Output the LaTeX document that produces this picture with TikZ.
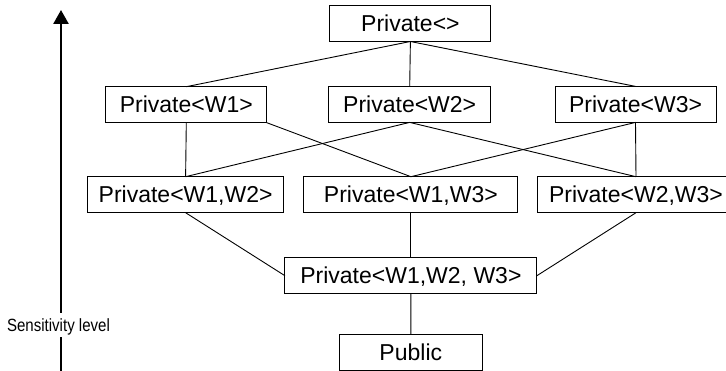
\documentclass[tikz,border=0pt]{standalone}
\usepackage{fontspec}
\setmainfont{Liberation Sans}
\usetikzlibrary{arrows.meta}
\begin{document}
\begin{tikzpicture}[x=1pt,y=-1pt,
  lvl/.style={draw, line width=1pt, inner sep=0pt, outer sep=0pt,
    minimum height=36pt, font=\fontsize{23}{27}\selectfont,
    text height=16.5pt, text depth=0pt},
  link/.style={line width=0.9pt},
  axis/.style={line width=2.6pt, -{Triangle[width=15pt,length=14pt]}},
  axislabel/.style={fill=white, inner sep=0pt, outer sep=0pt,
    minimum height=24pt, font=\fontsize{17.7}{20}\selectfont,
    text height=12.7pt, text depth=0pt}]
\useasboundingbox (0,0) rectangle (726,371);
\clip (0,0) rectangle (726,371);

% lattice of privacy levels
\node[lvl, minimum width=161pt] (top)  at (410.4,23.5)  {Private<>};
\node[lvl, minimum width=161pt] (w1)   at (186.3,104.7) {Private<W1>};
\node[lvl, minimum width=162pt] (w2)   at (409.7,104.4) {Private<W2>};
\node[lvl, minimum width=161pt] (w3)   at (635.5,104.4) {Private<W3>};
\node[lvl, minimum width=196pt] (w12)  at (185.6,194.7) {Private<W1,W2>};
\node[lvl, minimum width=214pt] (w13)  at (410.9,194.7) {Private<W1,W3>};
\node[lvl, minimum width=197pt] (w23)  at (636.0,194.7) {Private<W2,W3>};
\node[lvl, minimum width=252pt] (w123) at (410.9,275.7) {Private<W1,W2, W3>};
\node[lvl, minimum width=143pt] (pub)  at (410.8,352.2) {Public};

% orderings
\draw[link] (top.south) -- (w1.north);
\draw[link] (top.south) -- (w2.north);
\draw[link] (top.south) -- (w3.north);
\draw[link] (w1.south) -- (w12.north);
\draw[link] (w1.south east) -- (w13.north);
\draw[link] (w2.south) -- (w12.north);
\draw[link] (w2.south) -- (w23.north);
\draw[link] (w3.south) -- (w13.north);
\draw[link] (w3.south) -- (w23.north);
\draw[link] (w12.south) -- (w123.west);
\draw[link] (w13.south) -- (w123.north);
\draw[link] (w23.south) -- (w123.east);
\draw[link] (w123.south) -- (pub.north);

% sensitivity axis
\coordinate (abot) at (61,371);
\coordinate (atop) at (61,10);
\draw[axis] (abot) -- (atop);
\node[axislabel] (sens) at (58.5,325.3) {\scalebox{0.85}[1]{Sensitivity level}};
\end{tikzpicture}
\end{document}
